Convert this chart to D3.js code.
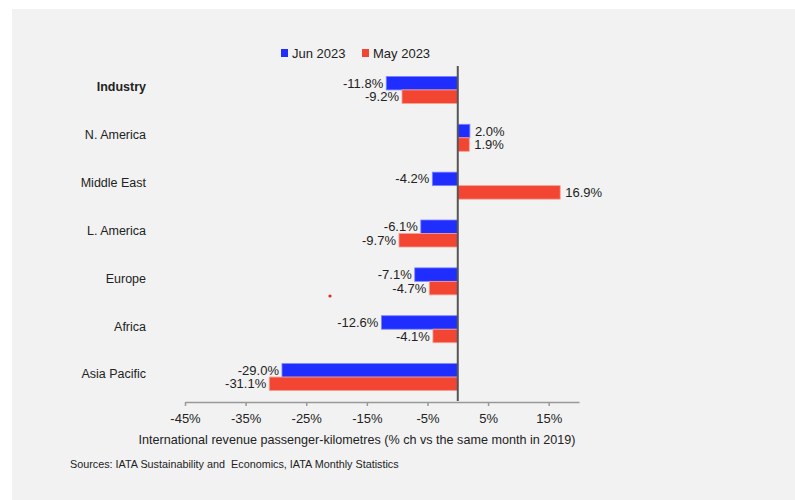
<!DOCTYPE html>
<html>
<head>
<meta charset="utf-8">
<script src="https://cdn.jsdelivr.net/npm/d3@7"></script>
<style>
  html, body { margin: 0; padding: 0; background: #fff; }
  svg text { font-family: "Liberation Sans", Arial, sans-serif; fill: #222; }
</style>
</head>
<body>
<svg id="chart" width="795" height="500"></svg>
<script>
// data
const regions = ['Industry', 'N. America', 'Middle East', 'L. America', 'Europe', 'Africa', 'Asia Pacific'];
const jun2023 = [-11.8, 2.0, -4.2, -6.1, -7.1, -12.6, -29.0];
const may2023 = [-9.2, 1.9, 16.9, -9.7, -4.7, -4.1, -31.1];
const seriesNames = ['Jun 2023', 'May 2023'];
const tickValues = [-45, -35, -25, -15, -5, 5, 15];

const colors = { 'Jun 2023': '#1f2eff', 'May 2023': '#f24633' };
const strokes = { 'Jun 2023': '#7d86ff', 'May 2023': '#f7a095' };

const svg = d3.select('#chart');

// light grey panel
svg.append('rect').attr('x', 12).attr('y', 9).attr('width', 783).attr('height', 491)
  .attr('fill', '#f2f2f2');

const x = d3.scaleLinear().domain([-45, 20]).range([185, 579]);
const y = d3.scaleBand().domain(regions).range([66, 401]);
const inner = d3.scaleBand().domain(seriesNames).range([0, 27]);
const barOffset = (y.bandwidth() - 27) / 2;

const rows = [];
regions.forEach((r, i) => {
  rows.push({ region: r, series: 'Jun 2023', value: jun2023[i] });
  rows.push({ region: r, series: 'May 2023', value: may2023[i] });
});

const g = svg.append('g');

// bars
g.selectAll('rect.bar').data(rows).join('rect')
  .attr('class', 'bar')
  .attr('x', d => x(Math.min(0, d.value)))
  .attr('y', d => y(d.region) + barOffset + inner(d.series))
  .attr('width', d => Math.abs(x(d.value) - x(0)))
  .attr('height', inner.bandwidth())
  .attr('fill', d => colors[d.series])
  .attr('stroke', d => strokes[d.series])
  .attr('stroke-width', 0.8);

// value labels
g.selectAll('text.val').data(rows).join('text')
  .attr('class', 'val')
  .attr('x', d => d.value < 0 ? x(d.value) - 3 : x(d.value) + 5)
  .attr('y', d => y(d.region) + barOffset + inner(d.series) + inner.bandwidth() / 2)
  .attr('dy', '0.35em')
  .attr('text-anchor', d => d.value < 0 ? 'end' : 'start')
  .attr('font-size', 13)
  .text(d => d.value.toFixed(1) + '%');

// zero line
g.append('line')
  .attr('x1', x(0)).attr('x2', x(0))
  .attr('y1', 66).attr('y2', 401)
  .attr('stroke', '#555').attr('stroke-width', 2);

// category labels
g.selectAll('text.cat').data(regions).join('text')
  .attr('class', 'cat')
  .attr('x', 146)
  .attr('y', d => y(d) + y.bandwidth() / 2 - 3)
  .attr('dy', '0.35em')
  .attr('text-anchor', 'end')
  .attr('font-size', 12.5)
  .attr('font-weight', d => d === 'Industry' ? 'bold' : 'normal')
  .text(d => d);

// x axis
const axis = svg.append('g')
  .attr('transform', 'translate(0,402)')
  .call(d3.axisBottom(x).tickValues(tickValues).tickSize(4).tickSizeOuter(0)
    .tickFormat(d => d + '%'));
axis.select('.domain').attr('stroke', '#999').attr('stroke-width', 1.5);
axis.selectAll('.tick line').attr('stroke', '#999').attr('stroke-width', 1.5);
axis.selectAll('.tick text').attr('font-size', 13).attr('dy', '1.05em')
  .attr('font-family', '"Liberation Sans", Arial, sans-serif').attr('fill', '#222');

svg.append('text')
  .attr('x', 357).attr('y', 444)
  .attr('text-anchor', 'middle')
  .attr('font-size', 12.6)
  .text('International revenue passenger-kilometres (% ch vs the same month in 2019)');

svg.append('text')
  .attr('x', 70).attr('y', 468)
  .attr('font-size', 10.8)
  .text('Sources: IATA Sustainability and  Economics, IATA Monthly Statistics')
  .style('white-space', 'pre');

// legend
const legend = svg.append('g').attr('transform', 'translate(281,53)');
const legendX = [0, 81];
seriesNames.forEach((s, i) => {
  const lg = legend.append('g').attr('transform', `translate(${legendX[i]},0)`);
  lg.append('rect').attr('x', 0).attr('y', -4).attr('width', 7).attr('height', 8)
    .attr('fill', colors[s]);
  lg.append('text').attr('x', 11).attr('y', 0).attr('dy', '0.35em')
    .attr('font-size', 13).text(s);
});

// stray red dot seen in the source image
svg.append('circle').attr('cx', 330).attr('cy', 296).attr('r', 1.6).attr('fill', '#e02a2a');
</script>
</body>
</html>
